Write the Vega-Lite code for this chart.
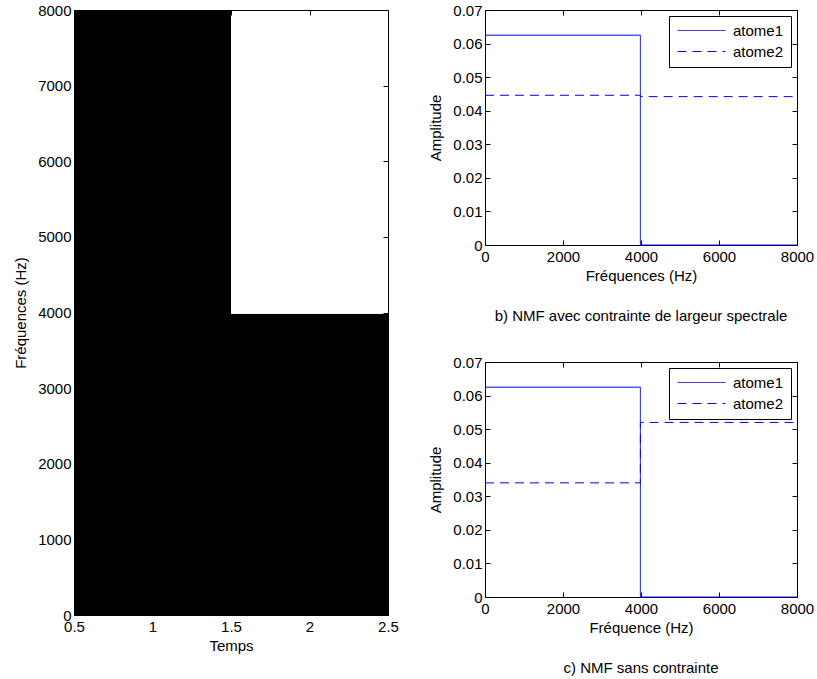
{
  "$schema": "https://vega.github.io/schema/vega-lite/v6.json",
  "background": "white",
  "padding": {"left": 13, "top": 3, "right": 5, "bottom": 5},
  "bounds": "flush",
  "spacing": 97,
  "config": {
    "font": "Liberation Sans",
    "view": {"stroke": null},
    "axis": {
      "domainColor": "#000000",
      "domainWidth": 1,
      "tickColor": "#000000",
      "tickSize": -5,
      "labelPadding": 9,
      "labelFont": "Liberation Sans",
      "titleFont": "Liberation Sans",
      "labelFontSize": 15,
      "titleFontSize": 15,
      "titleFontWeight": "normal",
      "labelColor": "#000000",
      "titleColor": "#000000",
      "grid": false,
      "labelFlush": false,
      "labelOverlap": false,
      "titlePadding": 4
    },
    "axisY": {"titlePadding": 9, "labelPadding": 8},
    "legend": {
      "orient": "top-right",
      "offset": 6,
      "padding": 7,
      "rowPadding": 5,
      "labelFont": "Liberation Sans",
      "labelFontSize": 15,
      "labelColor": "#000000",
      "symbolType": "M-4,0H4",
      "symbolSize": 144,
      "symbolOffset": 18,
      "symbolStrokeWidth": 1,
      "symbolStrokeColor": "#0000ff",
      "symbolBaseStrokeColor": "#0000ff",
      "symbolOpacity": 1,
      "labelOffset": 24,
      "cornerRadius": 0
    },
    "title": {"font": "Liberation Sans", "fontSize": 15, "fontWeight": "normal", "color": "#000000"}
  },
  "resolve": {"scale": {"color": "independent", "strokeDash": "independent"}, "legend": {"color": "independent", "strokeDash": "independent"}},
  "hconcat": [
    {
      "width": 314,
      "height": 605,
      "data": {
        "values": [
          {"t0": 0.5, "t1": 1.5, "f0": 0, "f1": 8000, "v": 0},
          {"t0": 1.5, "t1": 2.5, "f0": 0, "f1": 3984, "v": 0},
          {"t0": 1.5, "t1": 2.5, "f0": 3984, "f1": 8000, "v": 1}
        ]
      },
      "layer": [
        {
          "mark": {"type": "rect"},
          "encoding": {
            "x": {"field": "t0", "type": "quantitative", "scale": {"domain": [0.5, 2.5], "nice": false, "zero": false},
                  "axis": {"title": "Temps", "values": [0.5, 1, 1.5, 2, 2.5], "labelExpr": "format(datum.value, '~g')", "zindex": 1}},
            "x2": {"field": "t1"},
            "y": {"field": "f0", "type": "quantitative", "scale": {"domain": [0, 8000], "nice": false},
                  "axis": {"title": "Fréquences (Hz)", "values": [0, 1000, 2000, 3000, 4000, 5000, 6000, 7000, 8000], "format": "d", "zindex": 1}},
            "y2": {"field": "f1"},
            "color": {"field": "v", "type": "quantitative", "scale": {"domain": [0, 1], "range": ["#000000", "#ffffff"]}, "legend": null}
          }
        },
        {
          "mark": {"type": "rect", "opacity": 0},
          "encoding": {
            "x": {"field": "t0", "type": "quantitative",
                  "axis": {"orient": "top", "labels": false, "title": null, "values": [0.5, 1, 1.5, 2, 2.5], "zindex": 1}},
            "x2": {"field": "t1"},
            "y": {"field": "f0", "type": "quantitative",
                  "axis": {"orient": "right", "labels": false, "title": null, "values": [0, 1000, 2000, 3000, 4000, 5000, 6000, 7000, 8000], "zindex": 1}},
            "y2": {"field": "f1"}
          }
        }
      ],
      "resolve": {"axis": {"x": "independent", "y": "independent"}}
    },
    {
      "bounds": "flush",
      "spacing": 117,
      "resolve": {"scale": {"strokeDash": "independent"}, "legend": {"strokeDash": "independent"}},
      "vconcat": [
        {
          "width": 312,
          "height": 235,
          "title": {"text": "b) NMF avec contrainte de largeur spectrale", "orient": "bottom", "offset": 26, "anchor": "middle"},
          "data": {
            "values": [
              {"f": 0, "amp": 0.0625, "atome": "atome1"},
              {"f": 3984, "amp": 0, "atome": "atome1"},
              {"f": 8000, "amp": 0, "atome": "atome1"},
              {"f": 0, "amp": 0.0446, "atome": "atome2"},
              {"f": 3984, "amp": 0.0442, "atome": "atome2"},
              {"f": 8000, "amp": 0.0442, "atome": "atome2"}
            ]
          },
          "layer": [
            {
              "mark": {"type": "line", "interpolate": "step-after", "color": "#0000ff", "stroke": "#0000ff", "strokeWidth": 1},
              "encoding": {
                "x": {"field": "f", "type": "quantitative", "scale": {"domain": [0, 8000], "nice": false},
                      "axis": {"title": "Fréquences (Hz)", "values": [0, 2000, 4000, 6000, 8000], "format": "d"}},
                "y": {"field": "amp", "type": "quantitative", "scale": {"domain": [0, 0.07], "nice": false},
                      "axis": {"title": "Amplitude", "values": [0, 0.01, 0.02, 0.03, 0.04, 0.05, 0.06, 0.07], "labelExpr": "datum.value == 0 ? '0' : format(datum.value, '.2f')"}},
                "strokeDash": {"field": "atome", "type": "nominal", "scale": {"domain": ["atome1", "atome2"], "range": [[1, 0], [9, 6]]},
                               "legend": {"title": null, "symbolStrokeColor": "#0000ff",
                                          "encode": {"legend": {"update": {"stroke": {"value": "#000000"}, "strokeWidth": {"value": 1}, "fill": {"value": "#ffffff"}}},
                                                     "symbols": {"update": {"stroke": {"value": "#0000ff"}}}}}}
              }
            },
            {
              "mark": {"type": "line", "opacity": 0, "color": "#0000ff"},
              "encoding": {
                "x": {"field": "f", "type": "quantitative",
                      "axis": {"orient": "top", "labels": false, "title": null, "values": [0, 2000, 4000, 6000, 8000]}},
                "y": {"field": "amp", "type": "quantitative",
                      "axis": {"orient": "right", "labels": false, "title": null, "values": [0, 0.01, 0.02, 0.03, 0.04, 0.05, 0.06, 0.07]}}
              }
            }
          ],
          "resolve": {"axis": {"x": "independent", "y": "independent"}}
        },
        {
          "width": 312,
          "height": 235,
          "title": {"text": "c) NMF sans contrainte", "orient": "bottom", "offset": 26, "anchor": "middle"},
          "data": {
            "values": [
              {"f": 0, "amp": 0.0625, "atome": "atome1"},
              {"f": 3984, "amp": 0, "atome": "atome1"},
              {"f": 8000, "amp": 0, "atome": "atome1"},
              {"f": 0, "amp": 0.034, "atome": "atome2"},
              {"f": 3984, "amp": 0.052, "atome": "atome2"},
              {"f": 8000, "amp": 0.052, "atome": "atome2"}
            ]
          },
          "layer": [
            {
              "mark": {"type": "line", "interpolate": "step-after", "color": "#0000ff", "stroke": "#0000ff", "strokeWidth": 1},
              "encoding": {
                "x": {"field": "f", "type": "quantitative", "scale": {"domain": [0, 8000], "nice": false},
                      "axis": {"title": "Fréquence (Hz)", "values": [0, 2000, 4000, 6000, 8000], "format": "d"}},
                "y": {"field": "amp", "type": "quantitative", "scale": {"domain": [0, 0.07], "nice": false},
                      "axis": {"title": "Amplitude", "values": [0, 0.01, 0.02, 0.03, 0.04, 0.05, 0.06, 0.07], "labelExpr": "datum.value == 0 ? '0' : format(datum.value, '.2f')"}},
                "strokeDash": {"field": "atome", "type": "nominal", "scale": {"domain": ["atome1", "atome2"], "range": [[1, 0], [9, 6]]},
                               "legend": {"title": null, "symbolStrokeColor": "#0000ff",
                                          "encode": {"legend": {"update": {"stroke": {"value": "#000000"}, "strokeWidth": {"value": 1}, "fill": {"value": "#ffffff"}}},
                                                     "symbols": {"update": {"stroke": {"value": "#0000ff"}}}}}}
              }
            },
            {
              "mark": {"type": "line", "opacity": 0, "color": "#0000ff"},
              "encoding": {
                "x": {"field": "f", "type": "quantitative",
                      "axis": {"orient": "top", "labels": false, "title": null, "values": [0, 2000, 4000, 6000, 8000]}},
                "y": {"field": "amp", "type": "quantitative",
                      "axis": {"orient": "right", "labels": false, "title": null, "values": [0, 0.01, 0.02, 0.03, 0.04, 0.05, 0.06, 0.07]}}
              }
            }
          ],
          "resolve": {"axis": {"x": "independent", "y": "independent"}}
        }
      ]
    }
  ]
}
